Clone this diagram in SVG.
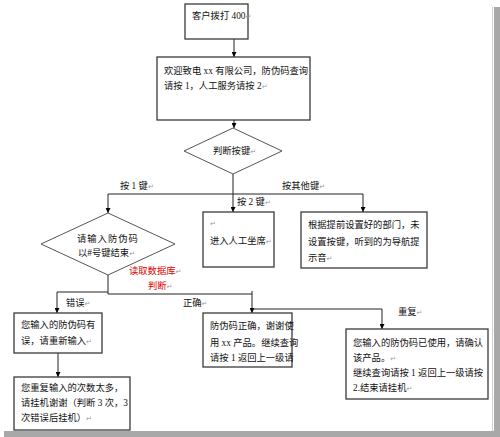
<svg xmlns="http://www.w3.org/2000/svg" width="500" height="437" viewBox="0 0 500 437">
<defs>
<marker id="ah" viewBox="0 0 10 10" refX="10" refY="5" markerWidth="5" markerHeight="5" orient="auto" markerUnits="userSpaceOnUse">
<path d="M0,0 L10,5 L0,10 Z" fill="#000"/>
</marker>
<style>
.box{fill:#fff;stroke:#3a3a3a;stroke-width:1.3}
.dia{fill:#fff;stroke:#555;stroke-width:1}
.ln{fill:none;stroke:#222;stroke-width:1}
.t{font-family:"Liberation Serif","Noto Sans CJK SC",serif;font-size:9.3px;fill:#111}
.r{fill:#e00000}
.pm{fill:#999;font-family:"DejaVu Sans",sans-serif;font-size:7px}
</style>
</defs>
<rect width="500" height="437" fill="#fff"/>
<rect x="494" y="7" width="6" height="430" fill="#a8a8a8"/>
<rect x="4" y="431" width="496" height="6" fill="#a8a8a8"/>
<line x1="492.5" y1="7" x2="492.5" y2="431" stroke="#d0d0d0" stroke-width="1"/>

<g id="connectors">
<line class="ln" x1="234" y1="39" x2="234" y2="57" marker-end="url(#ah)"/>
<line class="ln" x1="234" y1="120" x2="234" y2="128" marker-end="url(#ah)"/>
<line class="ln" x1="233" y1="174" x2="233" y2="194"/>
<line class="ln" x1="108" y1="194" x2="363" y2="194"/>
<line class="ln" x1="108" y1="194" x2="108" y2="213" marker-end="url(#ah)"/>
<line class="ln" x1="233" y1="194" x2="233" y2="212" marker-end="url(#ah)"/>
<line class="ln" x1="363" y1="194" x2="363" y2="212" marker-end="url(#ah)"/>
<polyline class="ln" points="108,275 108,294 252,294"/>
<polyline class="ln" points="252,291 252,313" marker-end="url(#ah)"/>
<polyline class="ln" points="108,292 57,292 57,313" marker-end="url(#ah)"/>
<polyline class="ln" points="252,309 382,309 382,329" marker-end="url(#ah)"/>
<line class="ln" x1="58" y1="353" x2="58" y2="377" marker-end="url(#ah)"/>
<text class="t" x="120" y="189">按 1 键<tspan class="pm">↵</tspan></text>
<text class="t" x="237" y="205">按 2 键<tspan class="pm">↵</tspan></text>
<text class="t" x="282" y="189">按其他键<tspan class="pm">↵</tspan></text>
<text class="t r" x="129" y="274">读取数据库<tspan class="pm">↵</tspan></text>
<text class="t r" x="148" y="289">判断<tspan class="pm">↵</tspan></text>
<text class="t" x="66" y="306">错误<tspan class="pm">↵</tspan></text>
<text class="t" x="183" y="306">正确<tspan class="pm">↵</tspan></text>
<text class="t" x="398" y="315">重复<tspan class="pm">↵</tspan></text>
</g>

<g id="n1">
<rect class="box" x="185" y="4" width="63" height="35"/>
<text class="t" x="192" y="19">客户拨打 400<tspan class="pm">↵</tspan></text>
</g>
<g id="n2">
<rect class="box" x="157" y="57" width="153" height="63"/>
<text class="t" x="164" y="74">欢迎致电 xx 有限公司，防伪码查询</text>
<text class="t" x="164" y="89">请按 1，人工服务请按 2<tspan class="pm">↵</tspan></text>
</g>
<g id="d1">
<polygon class="dia" points="233,128 282,151 233,174 184,151"/>
<text class="t" x="213" y="154">判断按键<tspan class="pm">↵</tspan></text>
</g>
<g id="d2">
<polygon class="dia" points="108,213 175,244 108,275 41,244"/>
<text class="t" x="77" y="242" letter-spacing="1">请输入防伪码</text>
<text class="t" x="78" y="256">以#号键结束<tspan class="pm">↵</tspan></text>
</g>
<g id="n3">
<rect class="box" x="203" y="212" width="71" height="55"/>
<text class="t" x="210" y="226"><tspan class="pm">↵</tspan></text>
<text class="t" x="210" y="244">进入人工坐席<tspan class="pm">↵</tspan></text>
</g>
<g id="n4">
<rect class="box" x="301" y="212" width="126" height="56"/>
<text class="t" x="308" y="228">根据提前设置好的部门，未</text>
<text class="t" x="308" y="245">设置按键，听到的为导航提</text>
<text class="t" x="308" y="261">示音<tspan class="pm">↵</tspan></text>
</g>
<g id="n5">
<rect class="box" x="14" y="313" width="88" height="40"/>
<text class="t" x="21" y="328">您输入的防伪码有</text>
<text class="t" x="21" y="344">误，请重新输入<tspan class="pm">↵</tspan></text>
</g>
<g id="n7">
<rect class="box" x="14" y="377" width="116" height="53"/>
<text class="t" x="21" y="391">您重复输入的次数太多，</text>
<text class="t" x="21" y="406">请挂机谢谢（判断 3 次，3</text>
<text class="t" x="21" y="421">次错误后挂机）<tspan class="pm">↵</tspan></text>
</g>
<g id="n6">
<rect class="box" x="203" y="313" width="89" height="54"/>
<text class="t" x="210" y="329">防伪码正确，谢谢使</text>
<text class="t" x="210" y="346">用 xx 产品。继续查询</text>
<text class="t" x="210" y="361">请按 1 返回上一级请</text>
</g>
<g id="n8">
<rect class="box" x="346" y="329" width="142" height="70"/>
<text class="t" x="353" y="346">您输入的防伪码已使用，请确认</text>
<text class="t" x="353" y="361">该产品。<tspan class="pm">↵</tspan></text>
<text class="t" x="353" y="376">继续查询请按 1 返回上一级请按</text>
<text class="t" x="353" y="391">2.结束请挂机<tspan class="pm">↵</tspan></text>
</g>
</svg>
